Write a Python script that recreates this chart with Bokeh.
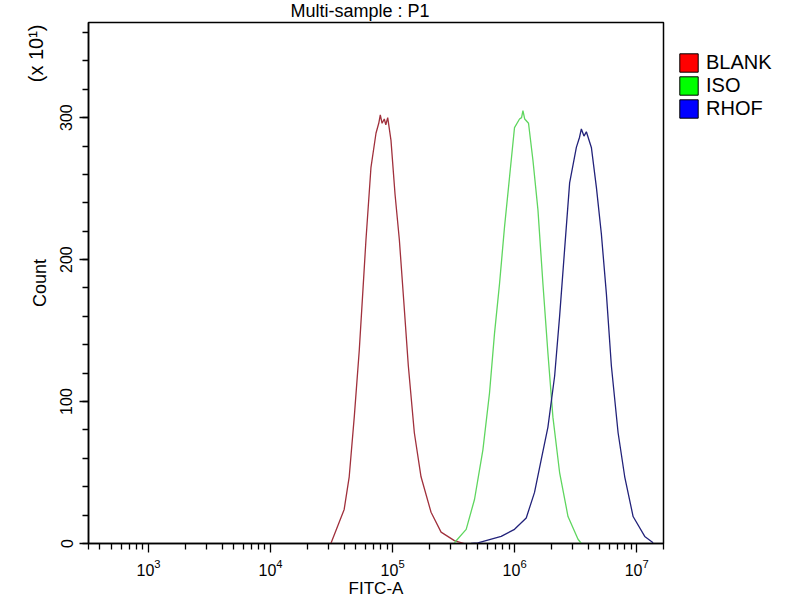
from bokeh.plotting import figure
from bokeh.layouts import row
from bokeh.models import Range1d, FixedTicker, Legend, LegendItem, Title
from bokeh.embed import file_html
from bokeh.resources import INLINE

# ---- data (FITC-A intensity, Count in units of x10) ----
blank_x = [31200, 40100, 44100, 48500, 53300, 56900, 60500, 66500, 73100, 77000,
           79300, 82000, 85500, 88000, 91200, 97000, 104700, 113600, 123400, 134600,
           150700, 171000, 206600, 249600, 321000, 385700]
blank_y = [0, 24, 47, 89, 136, 176, 214, 265, 289, 296,
           302, 296, 299, 295, 300, 284, 246, 214, 171, 125,
           78, 47, 22, 8, 2, 0]

iso_x = [321000, 400900, 469000, 549600, 622700, 684300, 752200, 826600, 908300, 998000,
         1097000, 1140000, 1170000, 1210000, 1300000, 1413000, 1553000, 1706000, 1875000,
         2060000, 2337000, 2739000, 3308000, 3523000]
iso_y = [0.5, 10, 31, 66, 106, 148, 183, 223, 258, 293,
         299, 300, 305, 299, 296, 270, 235, 183, 134,
         89, 50, 19, 3, 0]

rhof_x = [440400, 500000, 776000, 998000, 1245000, 1456000, 1652000, 1875000, 2128000,
          2337000, 2568000, 2824000, 3206000, 3400000, 3523000, 3700000, 3872000, 4256000,
          4677000, 5140000, 5649000, 6209000, 7047000, 7985000, 9355000, 11650000, 13650000]
rhof_y = [0, 0.5, 5, 10, 18, 36, 59, 82, 118,
          160, 207, 254, 279, 286, 292, 287, 290, 279,
          251, 218, 176, 125, 78, 47, 19, 5, 0.5]

series_names = ["BLANK", "ISO", "RHOF"]
line_colors = ["#a0303c", "#5fd65f", "#22227a"]
swatch_colors = ["#ff0000", "#00ff00", "#0000ff"]

x_start, x_end = 322, 1.66e7
x_major = [1e3, 1e4, 1e5, 1e6, 1e7]
x_minor = [x_start] + [m * 10 ** e for e in range(2, 8) for m in range(2, 10)] + [x_end]
y_major = [0, 100, 200, 300]
y_minor = list(range(0, 361, 20))

FONT = "Liberation Sans"

p = figure(width=665, height=600, x_axis_type="log",
           x_range=Range1d(x_start, x_end), y_range=Range1d(0, 367),
           output_backend="svg", toolbar_location=None,
           min_border_left=88, min_border_right=2,
           min_border_top=22, min_border_bottom=56)
p.background_fill_color = "white"
p.border_fill_color = "white"
p.outline_line_color = "black"
p.outline_line_width = 1.5
p.xgrid.visible = False
p.ygrid.visible = False

# title
p.title.text = "Multi-sample : P1"
p.title.align = "left"
p.title.offset = 202
p.title.vertical_align = "top"
p.title.standoff = 0
p.title.text_font = FONT
p.title.text_font_size = "18px"
p.title.text_font_style = "normal"
p.title.text_color = "black"

# axes
xa = p.xaxis[0]
xa.ticker = FixedTicker(ticks=x_major, minor_ticks=x_minor)
ya = p.yaxis[0]
ya.ticker = FixedTicker(ticks=y_major, minor_ticks=y_minor)
for ax in (xa, ya):
    ax.axis_line_color = "black"
    ax.axis_line_width = 1.5
    ax.major_tick_line_color = "black"
    ax.minor_tick_line_color = "black"
    ax.major_tick_line_width = 1.3
    ax.minor_tick_line_width = 1.3
    ax.major_tick_in = 0
    ax.major_tick_out = 9
    ax.minor_tick_in = 0
    ax.minor_tick_out = 6
    ax.major_label_text_color = "black"
    ax.major_label_text_font = FONT
    ax.axis_label_text_font = FONT
    ax.axis_label_text_font_style = "normal"
    ax.axis_label_text_color = "black"

xa.major_label_text_font_size = "16px"
xa.major_label_standoff = 6
xa.axis_label = "FITC-A"
xa.axis_label_text_font_size = "17px"
xa.axis_label_standoff = 0

ya.major_label_text_font_size = "16px"
ya.major_label_orientation = "vertical"
ya.major_label_standoff = 7
ya.axis_label = "Count"
ya.axis_label_text_font_size = "18px"
ya.axis_label_standoff = 8

# scale note at the top of the count axis
scale_note = Title(text="(x 10\u00b9)", align="right", vertical_align="bottom",
                   offset=2, standoff=-40, text_font=FONT, text_font_size="20px",
                   text_font_style="normal", text_color="black")
p.add_layout(scale_note, "left")

# histogram traces
for xs, ys, c in zip([blank_x, iso_x, rhof_x], [blank_y, iso_y, rhof_y], line_colors):
    p.line(xs, ys, line_color=c, line_width=1.3)

# legend panel to the right of the plot
lg = figure(width=135, height=600, x_range=Range1d(0, 1), y_range=Range1d(0, 1),
            output_backend="svg", toolbar_location=None,
            x_axis_location=None, y_axis_location=None,
            min_border_left=0, min_border_right=0, min_border_top=0, min_border_bottom=0)
lg.outline_line_color = None
lg.background_fill_color = "white"
lg.border_fill_color = "white"
lg.xgrid.visible = False
lg.ygrid.visible = False

items = []
for name, sc in zip(series_names, swatch_colors):
    r = lg.quad(left=[0], right=[0], top=[0], bottom=[0], fill_color=sc,
                line_color="black", line_width=1, visible=False)
    items.append(LegendItem(label=name, renderers=[r]))
legend = Legend(items=items, location=(12, 423))
legend.inactive_fill_alpha = 0
legend.background_fill_alpha = 0
legend.border_line_alpha = 0
legend.padding = 0
legend.margin = 0
legend.spacing = 0
legend.glyph_height = 23
legend.glyph_width = 23
legend.label_height = 23
legend.label_standoff = 6
legend.label_text_font = FONT
legend.label_text_font_size = "20px"
legend.label_text_color = "black"
lg.add_layout(legend)

layout = row(p, lg, spacing=0)
open("out.html", "w").write(file_html(layout, INLINE))
